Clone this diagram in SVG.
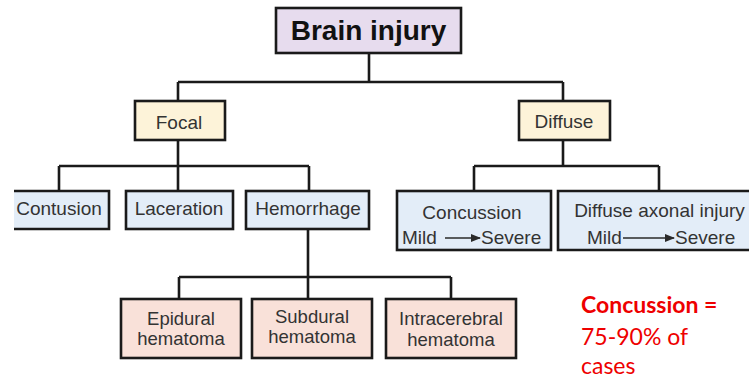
<svg xmlns="http://www.w3.org/2000/svg" width="755" height="378" viewBox="0 0 755 378">
<defs>
<marker id="ah" markerWidth="10" markerHeight="8" refX="9" refY="4" orient="auto" markerUnits="userSpaceOnUse">
<path d="M0,0 L10,4 L0,8 Z" fill="#2a2a2a"/>
</marker>
<style>
.box{stroke:#1a1a1a;stroke-width:2.6}
.edge{stroke:#1a1a1a;stroke-width:2.6}
.purple{fill:#e7dcee}
.cream{fill:#fdf3d9}
.blue{fill:#e3edf8}
.pink{fill:#f9e1d9}
.t{font-family:"Liberation Sans",Arial,sans-serif;font-size:19px;fill:#333;text-anchor:middle}
.tl{font-family:"Liberation Sans",Arial,sans-serif;font-size:19px;fill:#333;text-anchor:start}
.ts{font-family:"Liberation Sans",Arial,sans-serif;font-size:18.5px;fill:#333;text-anchor:middle}
.arr{stroke:#2a2a2a;stroke-width:1.5;fill:none}
.note{font-family:Lato,"Open Sans",sans-serif;font-size:23px;fill:#ee0000}
</style>
</defs>
<rect width="755" height="378" fill="#ffffff"/>
<g id="connectors" fill="none" class="edge">
<path d="M369,53 V82 M178,82 H563 M178,82 V101 M563,82 V101"/>
<path d="M178,140 V166 M59,166 H309 M59,166 V191 M178,166 V191 M309,166 V191"/>
<path d="M563,140 V166 M474,166 H659 M474,166 V191 M659,166 V191"/>
<path d="M308,230 V277 M179,277 H451 M179,277 V299 M308,277 V299 M451,277 V299"/>
</g>
<g id="brain-injury">
<rect x="276" y="8" width="185" height="45" class="box purple"/>
<text x="368.5" y="40" text-anchor="middle" font-family="'Liberation Sans',Arial,sans-serif" font-size="28" font-weight="bold" fill="#111">Brain injury</text>
</g>
<g id="focal">
<rect x="135" y="101" width="90" height="39" class="box cream"/>
<text x="179" y="129" class="t">Focal</text>
</g>
<g id="diffuse">
<rect x="519" y="101" width="91" height="39" class="box cream"/>
<text x="564" y="128" class="t">Diffuse</text>
</g>
<g id="contusion">
<rect x="14" y="191" width="95" height="38" class="blue"/>
<path d="M14,191 H109 V229 H14" fill="none" class="box"/>
<text x="59" y="215" class="t">Contusion</text>
</g>
<g id="laceration">
<rect x="126" y="191" width="107" height="38" class="box blue"/>
<text x="179" y="215" class="t">Laceration</text>
</g>
<g id="hemorrhage">
<rect x="246" y="191" width="123" height="38" class="box blue"/>
<text x="308" y="215" class="t">Hemorrhage</text>
</g>
<g id="concussion">
<rect x="397" y="191" width="154" height="59" class="box blue"/>
<text x="472" y="219" class="t">Concussion</text>
<text x="402" y="243.5" class="tl">Mild</text>
<line x1="445" y1="238" x2="480" y2="238" class="arr" marker-end="url(#ah)"/>
<text x="481" y="243.5" class="tl">Severe</text>
</g>
<g id="diffuse-axonal-injury">
<rect x="558" y="191" width="191" height="59" class="blue"/>
<path d="M749,191 H558 V250 H749" fill="none" class="box"/>
<text x="659.5" y="217" class="t">Diffuse axonal injury</text>
<text x="587" y="243.5" class="tl">Mild</text>
<line x1="623" y1="238" x2="674" y2="238" class="arr" marker-end="url(#ah)"/>
<text x="675" y="243.5" class="tl">Severe</text>
</g>
<g id="epidural">
<rect x="121" y="299" width="120" height="59" class="box pink"/>
<text x="181" y="325" class="ts">Epidural</text>
<text x="181" y="345" class="ts">hematoma</text>
</g>
<g id="subdural">
<rect x="252" y="299" width="120" height="59" class="box pink"/>
<text x="312" y="323" class="ts">Subdural</text>
<text x="312" y="343" class="ts">hematoma</text>
</g>
<g id="intracerebral">
<rect x="386" y="299" width="130" height="59" class="box pink"/>
<text x="451" y="325" class="ts">Intracerebral</text>
<text x="451" y="346" class="ts">hematoma</text>
</g>
<g id="note">
<text x="581" y="313" class="note" font-weight="bold">Concussion =</text>
<text x="581" y="345" class="note">75-90% of</text>
<text x="581" y="374" class="note">cases</text>
</g>
</svg>
